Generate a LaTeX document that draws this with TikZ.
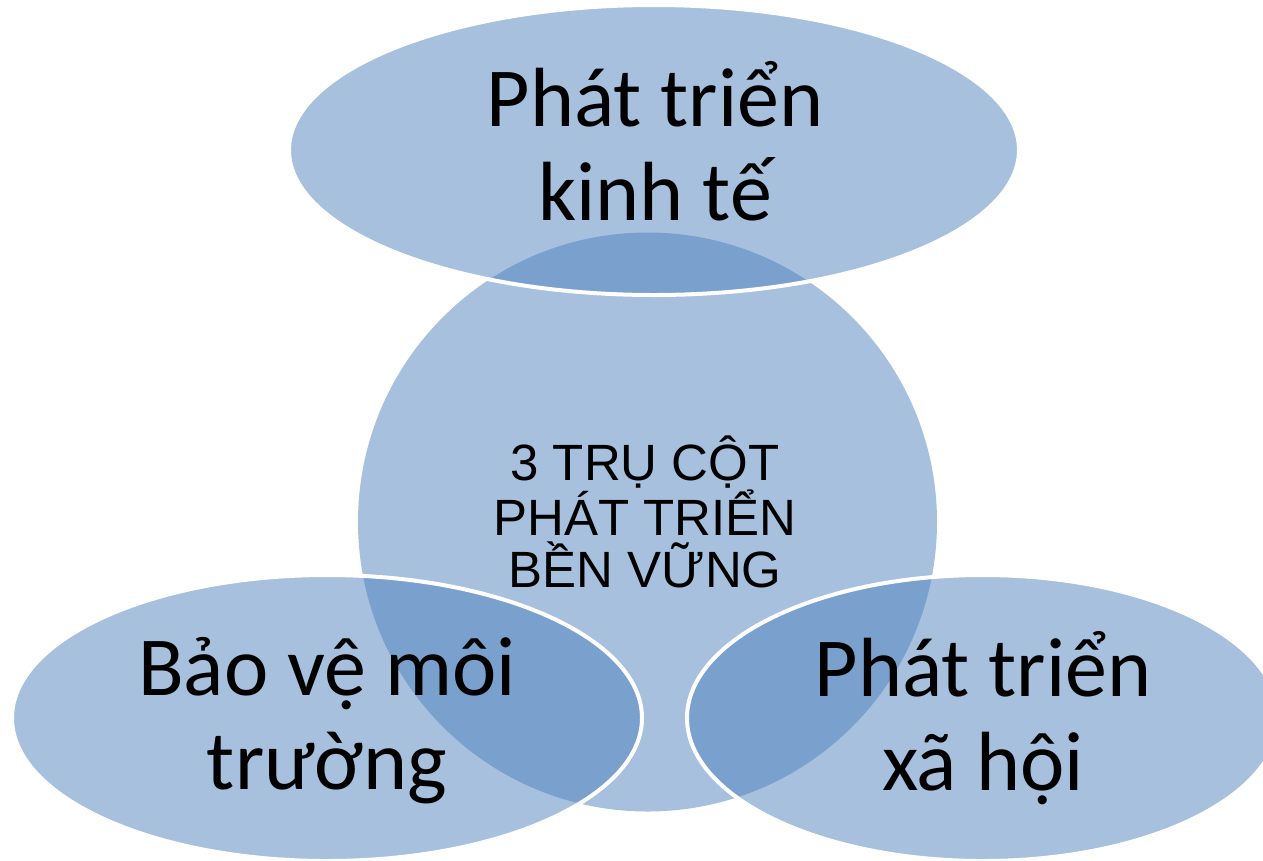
\documentclass[tikz,border=0pt]{standalone}
\usepackage{fontspec}
\setmainfont{Carlito}
\newfontfamily\hubfont{Liberation Sans}
\usetikzlibrary{positioning, shapes.geometric}
\definecolor{pillarblue}{HTML}{4F81BD}

\begin{document}
\begin{tikzpicture}[x=1pt, y=-1pt,
        pillar/.style={ellipse, fill=pillarblue, fill opacity=0.5, draw=white, line width=4pt, inner sep=0pt},
        biglabel/.style={align=center, font=\fontsize{84}{94}\selectfont, anchor=base},
        hublabel/.style={align=center, font=\hubfont\fontsize{51}{52}\selectfont, anchor=base}]
        \clip (0,0) rectangle (1263,860);

        % Nodes
        \node[circle, fill=pillarblue, fill opacity=0.5, minimum size=579pt, inner sep=0pt] (hub) at (647.5,522) {};
        \node[pillar, minimum width=730pt, minimum height=290pt] (kinhte) at (654,150) {};
        \node[pillar, minimum width=630pt, minimum height=286pt] (moitruong) at (327,718) {};
        \node[pillar, minimum width=592pt, minimum height=286pt] (xahoi) at (983,718) {};

        % Labels (base = last line)
        \node[hublabel] (hubText) at (645,587) {3 TRỤ CỘT\\PHÁT TRIỂN\\BỀN VỮNG};
        \node[biglabel] (kinhteText) at (655,220) {Phát triển\\kinh tế};
        \node[biglabel] (moitruongText) at (327,789) {Bảo vệ môi\\trường};
        \node[biglabel] (xahoiText) at (983,790) {Phát triển\\xã hội};
\end{tikzpicture}
\end{document}
